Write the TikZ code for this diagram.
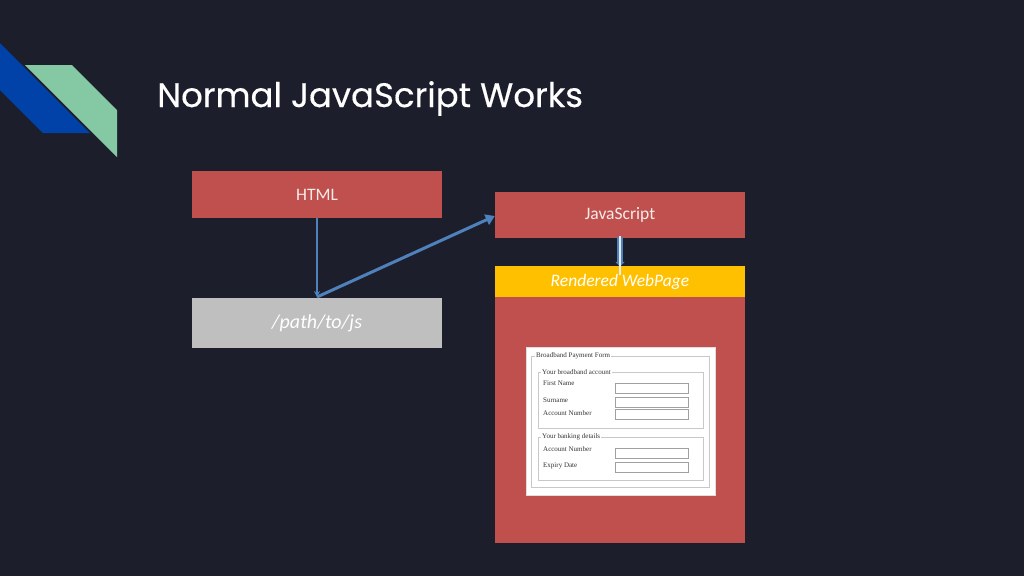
\documentclass[tikz,border=0pt]{standalone}
\usepackage{fontspec}
\setmainfont{Carlito}
\newfontfamily\titlefont[FakeBold=0.4]{Poppins}
\newfontfamily\formfont{Liberation Serif}
\usetikzlibrary{arrows.meta}
\definecolor{bg}{HTML}{1C1F2B}
\definecolor{boxred}{HTML}{C0504D}
\definecolor{boxgray}{HTML}{BFBFBF}
\definecolor{boxyellow}{HTML}{FFC000}
\definecolor{arrowblue}{HTML}{4F81BD}
\definecolor{deepblue}{HTML}{0042A8}
\definecolor{mint}{HTML}{85C9A4}
\definecolor{lighttext}{HTML}{F7ECEC}
\definecolor{formline}{HTML}{C8C8C8}
\tikzset{
  block/.style={draw=none, minimum width=250pt, inner sep=0pt, text=lighttext},
  redblock/.style={block, fill=boxred, font=\fontsize{17.5}{20}\selectfont},
  formlabel/.style={font=\formfont\fontsize{7}{8}\selectfont, text=black!80, anchor=west, inner sep=0pt},
  legendtxt/.style={formlabel, fill=white, inner sep=1pt},
  fieldset/.style={draw=formline, line width=0.8pt},
  inputbox/.style={draw=formline!80!black, fill=white, line width=0.7pt, minimum width=73pt, minimum height=10pt, inner sep=0pt, anchor=north west},
}
\begin{document}
\begin{tikzpicture}[x=1pt, y=-1pt]
\useasboundingbox (0,0) rectangle (1024,576);
\fill[bg] (0,0) rectangle (1024,576);
% corner decoration
\fill[deepblue] (0,43) -- (90,133) -- (43,133) -- (0,90) -- cycle;
\fill[mint] (25,65) -- (72,65) -- (117,110) -- (117,157) -- cycle;
% title
\node[anchor=base west, inner sep=0pt, text=white, font=\titlefont\fontsize{34}{38}\selectfont] (title) at (157,107) {Normal JavaScript Works};
% boxes
\node[redblock, minimum height=47pt] (html) at (317,194.5) {HTML};
\node[block, fill=boxgray, minimum height=50pt, font=\itshape\fontsize{20}{22}\selectfont, text=white] (path) at (317,323) {/path/to/js};
\node[redblock, minimum height=46pt] (js) at (620,215) {JavaScript};
\node[block, fill=boxyellow, minimum height=31pt, font=\itshape\fontsize{17.5}{20}\selectfont, text=white] (rendered) at (620,281.5) {Rendered WebPage};
\node[block, fill=boxred, minimum height=246pt, anchor=north] (page) at (rendered.south) {};
% form
\node[draw=formline!60, fill=white, minimum width=189pt, minimum height=148pt, inner sep=0pt, anchor=north west] (form) at (526,347) {};
\draw[fieldset] (531,356) rectangle (709,487);
\node[legendtxt] (lg1) at (535,356) {Broadband Payment Form};
\draw[fieldset] (538,372) rectangle (703,428);
\node[legendtxt] (lg2) at (541,372) {Your broadband account};
\node[formlabel] (l1) at (543,383) {First Name};
\node[formlabel] (l2) at (543,400) {Surname};
\node[formlabel] (l3) at (543,413) {Account Number};
\node[inputbox] (i1) at (615,383) {};
\node[inputbox] (i2) at (615,396.5) {};
\node[inputbox] (i3) at (615,409) {};
\draw[fieldset] (538,437) rectangle (703,480);
\node[legendtxt] (lg3) at (541,437) {Your banking details};
\node[formlabel] (l4) at (543,449) {Account Number};
\node[formlabel] (l5) at (543,465.5) {Expiry Date};
\node[inputbox] (i4) at (615,447.5) {};
\node[inputbox] (i5) at (615,462) {};
% connectors
\coordinate (turn) at (317,297);
\draw[arrowblue, line width=1.2pt, -{Stealth[length=6pt,width=6pt]}] (html.south) -- (turn);
\draw[arrowblue, line width=3pt, -{Triangle[length=9pt,width=11pt]}] (turn) -- ([yshift=-1pt]js.west);
\draw[arrowblue, line width=6pt, -{Triangle[length=5pt,width=9pt]}] ([yshift=1pt]js.south) -- ([yshift=-1pt]rendered.north);
\draw[white!85!arrowblue, line width=2.4pt] ([yshift=2pt]js.south) -- ([yshift=-9pt]rendered.north);
\end{tikzpicture}
\end{document}
